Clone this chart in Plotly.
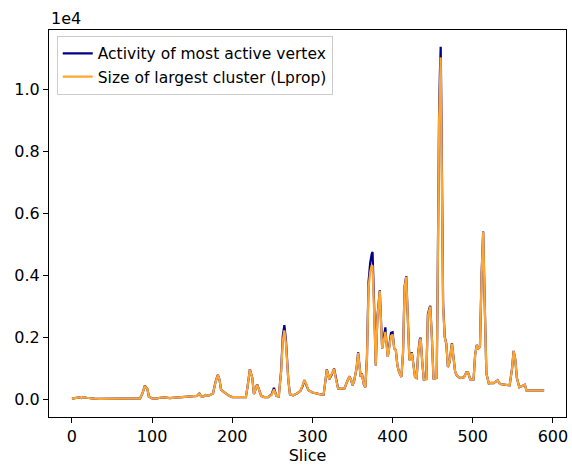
import plotly.graph_objects as go

# Slice index (sampled at the visible turning points of the curves)
slices = [0, 5, 9, 12, 15, 18, 22, 28, 35, 45, 55, 65, 75, 80, 85, 88, 91, 94, 96, 100,
          105, 110, 115, 122, 130, 138, 146, 152, 156, 159, 161, 164, 167, 170, 173, 176, 179, 182, 184, 186,
          189, 192, 196, 200, 210, 217, 219, 222, 225, 227, 229, 231, 233, 236, 240, 245, 249, 252, 255, 258,
          261, 263, 265, 267, 270, 272, 276, 281, 285, 288, 290, 292, 295, 300, 305, 310, 314, 316, 318, 321,
          324, 327, 329, 332, 336, 340, 343, 346, 348, 350, 352, 355, 357, 359, 360, 362, 364, 366, 368, 370,
          372, 374, 375, 377, 379, 381, 383, 384, 386, 387, 389, 391, 392, 394, 396, 398, 400, 402, 404, 406,
          408, 411, 413, 415, 417, 419, 421, 424, 426, 428, 430, 432, 434, 435, 437, 439, 442, 444, 446, 447,
          449, 451, 453, 455, 456, 457, 458, 459, 460, 461, 462, 463, 465, 467, 469, 471, 474, 476, 478, 480,
          483, 486, 489, 492, 494, 497, 501, 503, 505, 507, 509, 511, 513, 515, 517, 520, 523, 526, 529, 531,
          534, 538, 542, 546, 549, 551, 553, 555, 558, 561, 565, 567, 575, 589]

# Size of largest cluster (Lprop)
cluster = [30, 40, 70, 50, 80, 60, 40, 30, 20, 25, 30, 35, 40, 30, 40, 200, 440, 350, 100, 40,
           30, 60, 70, 50, 70, 80, 90, 110, 120, 190, 110, 100, 150, 120, 170, 200, 550, 790, 650, 320,
           260, 200, 120, 80, 70, 80, 400, 970, 700, 180, 320, 480, 350, 120, 80, 80, 150, 330, 120, 100,
           900, 1900, 2230, 1800, 600, 170, 140, 200, 280, 450, 620, 520, 300, 230, 190, 170, 160, 500, 960, 660,
           800, 990, 700, 360, 350, 360, 560, 730, 660, 460, 600, 1000, 1500, 1000, 780, 790, 500, 400, 1300, 3600,
           4100, 4330, 4300, 2800, 1100, 2600, 3400, 3500, 2200, 1650, 1900, 2180, 1900, 1380, 1700, 2050, 2100, 1650, 1600, 1100,
           890, 730, 1500, 3600, 3960, 2500, 1270, 1500, 1100, 730, 700, 1500, 1900, 1970, 1200, 650, 660, 2700, 2900, 3000,
           2000, 680, 680, 700, 3000, 7500, 9000, 10000, 11030, 8500, 5000, 3000, 2000, 1800, 1050, 1200, 1800, 1300, 900, 780,
           710, 700, 720, 870, 880, 650, 650, 1450, 1750, 1650, 1700, 4000, 5400, 3000, 840, 520, 540, 530, 600, 620,
           500, 480, 470, 460, 1000, 1560, 1300, 700, 400, 430, 480, 300, 300, 300]

# Activity of most active vertex
activity = [30, 40, 70, 50, 80, 60, 40, 30, 20, 25, 30, 35, 40, 30, 40, 200, 450, 350, 100, 40,
            30, 60, 70, 50, 70, 80, 90, 110, 120, 195, 110, 100, 150, 120, 170, 200, 560, 800, 650, 320,
            260, 200, 120, 80, 70, 80, 400, 980, 700, 180, 320, 490, 350, 120, 80, 80, 170, 380, 120, 100,
            950, 2050, 2400, 1900, 600, 170, 140, 200, 280, 450, 630, 520, 300, 230, 190, 170, 160, 500, 970, 660,
            800, 1000, 700, 360, 350, 360, 560, 740, 660, 460, 600, 1000, 1520, 1000, 780, 800, 500, 400, 1350, 3800,
            4400, 4700, 4760, 3000, 1100, 2650, 3450, 3520, 2250, 1650, 2000, 2330, 1950, 1380, 1750, 2150, 2170, 1650, 1600, 1100,
            890, 730, 1500, 3650, 3980, 2500, 1270, 1520, 1100, 730, 700, 1520, 1950, 1990, 1200, 650, 660, 2750, 2950, 3020,
            2000, 680, 680, 700, 3100, 7700, 9300, 10500, 11374, 9000, 5200, 3100, 2030, 1800, 1050, 1200, 1820, 1300, 900, 780,
            710, 700, 720, 880, 880, 650, 650, 1460, 1760, 1650, 1700, 4050, 5420, 3000, 840, 520, 540, 530, 600, 620,
            500, 480, 470, 460, 1000, 1570, 1300, 700, 400, 430, 480, 300, 300, 300]

x_ticks = [0, 100, 200, 300, 400, 500, 600]
y_ticks = [0, 2000, 4000, 6000, 8000, 10000]
y_tick_labels = ["0.0", "0.2", "0.4", "0.6", "0.8", "1.0"]

FONT = "DejaVu Sans"

fig = go.Figure()
fig.add_trace(go.Scatter(x=slices, y=activity, mode="lines",
                         name="Activity of most active vertex",
                         line=dict(color="#00008b", width=2.2)))
fig.add_trace(go.Scatter(x=slices, y=cluster, mode="lines",
                         name="Size of largest cluster (Lprop)",
                         line=dict(color="#ffa532", width=2.2)))

axis_common = dict(showline=True, mirror=True, linecolor="black", linewidth=1,
                   ticks="outside", ticklen=5, tickwidth=1, tickcolor="black",
                   showgrid=False, zeroline=False,
                   tickfont=dict(family=FONT, size=16, color="black"))

fig.update_layout(
    width=572, height=466,
    margin=dict(l=49, r=4, t=30, b=49),
    paper_bgcolor="white", plot_bgcolor="white",
    font=dict(family=FONT, color="black"),
    showlegend=True,
    legend=dict(x=0.015, y=0.985, xanchor="left", yanchor="top",
                bgcolor="rgba(255,255,255,0.8)", bordercolor="#cccccc", borderwidth=1,
                font=dict(family=FONT, size=15.5, color="black"),
                tracegroupgap=0),
    xaxis=dict(range=[-28.6, 616.3], tickvals=x_ticks,
               title=dict(text="Slice", font=dict(family=FONT, size=16, color="black"), standoff=4),
               **axis_common),
    yaxis=dict(range=[-561, 11913], tickvals=y_ticks, ticktext=y_tick_labels,
               **axis_common),
    annotations=[dict(text="1e4", xref="paper", yref="paper", x=0, y=1,
                      xanchor="left", yanchor="bottom", showarrow=False,
                      font=dict(family=FONT, size=16, color="black"))],
)

fig.write_html("out.html")
